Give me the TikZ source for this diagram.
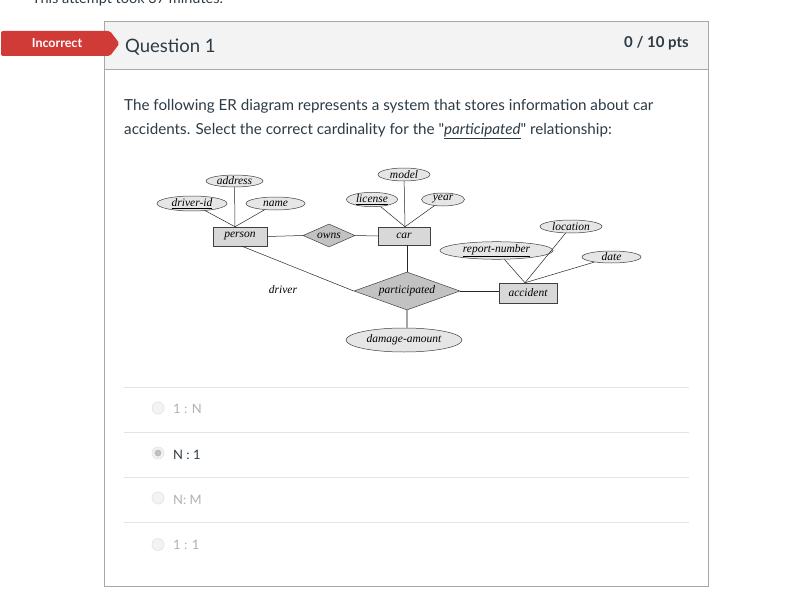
\documentclass[tikz,border=0pt]{standalone}
\usepackage{fontspec}
\newfontfamily\lato{Lato}
\newfontfamily\erserif{Liberation Serif}
\usetikzlibrary{shapes.geometric}
\definecolor{txt}{HTML}{2D3B45}
\definecolor{bord}{HTML}{A8A8A8}
\definecolor{hdr}{HTML}{F3F3F3}
\definecolor{redban}{HTML}{D03A37}
\definecolor{sepc}{HTML}{E4E4E4}
\definecolor{ellc}{HTML}{E6E6E6}
\definecolor{entc}{HTML}{D8D8D8}
\definecolor{relc}{HTML}{C2C2C2}
\definecolor{faint}{HTML}{B0B0B0}
\newcommand\erf{\erserif\fontsize{11.5}{13}\selectfont\itshape}
\begin{document}
\begin{tikzpicture}[x=1pt,y=-1pt,
  attr/.style={ellipse, draw=black!75, fill=ellc, inner sep=0pt, font=\erf, line width=0.5pt},
  ent/.style={rectangle, draw=black!75, fill=entc, inner sep=0pt, font=\erf, line width=0.5pt},
  rel/.style={diamond, draw=black!75, fill=relc, inner sep=0pt, font=\erf, line width=0.5pt},
  erl/.style={line width=0.5pt, black!85},
  ui/.style={inner sep=0pt, text=txt, font=\lato\fontsize{15.2}{17}\selectfont},
  radio/.style={circle, draw=sepc!80!black!40, fill=hdr, minimum size=12pt, inner sep=0pt, line width=0.6pt},
  sepl/.style={sepc, line width=0.8pt}]
\clip (0,0) rectangle (787,607);
\fill[white] (0,0) rectangle (787,607);
% top clipped text
\node[ui, anchor=base west, font=\lato\fontsize{14.5}{16}\selectfont] (top) at (32,4) {This attempt took 37 minutes.};
% question box
\draw[bord, fill=white, line width=0.8pt] (104,21) rectangle (708,586);
\draw[bord, fill=hdr, line width=0.8pt] (104,21) rectangle (708,69);
% banner
\fill[redban, rounded corners=2pt] (1,31) -- (110,31) -- (119.5,43.5) -- (110,56) -- (1,56) -- cycle;
\node[anchor=base, text=white, inner sep=0pt, font=\lato\bfseries\fontsize{12.5}{14}\selectfont] (inc) at (57,47.5) {Incorrect};
\node[ui, anchor=base west, font=\lato\fontsize{18.5}{20}\selectfont] (q1) at (125,52.5) {Question 1};
\node[ui, anchor=base east, font=\lato\bfseries\fontsize{15}{17}\selectfont] (pts) at (689,48) {0 / 10 pts};
% question text
\node[ui, anchor=base west] (l1) at (124,110.5) {The following ER diagram represents a system that stores information about car};
\node[ui, anchor=base west] (l2) at (124,134.5) {accidents. Select the correct cardinality for the "\underline{\textit{participated}}" relationship:};
% ER diagram
\node[attr, minimum width=57pt, minimum height=12pt] (addr) at (234.5,181) {address};
\node[attr, minimum width=70pt, minimum height=15pt] (did) at (192,203.5) {\underline{driver-id}};
\node[attr, minimum width=59pt, minimum height=13pt] (name) at (275.5,203.5) {name};
\node[ent, minimum width=54pt, minimum height=19pt] (person) at (240,236.5) {person};
\node[rel, aspect=2.3, minimum width=52pt, minimum height=23pt] (owns) at (329,235.5) {owns};
\node[ent, minimum width=52pt, minimum height=18pt] (car) at (404,236) {car};
\node[attr, minimum width=52pt, minimum height=13pt] (model) at (404,174.5) {model};
\node[attr, minimum width=51pt, minimum height=14pt] (lic) at (372,199.5) {\underline{license}};
\node[attr, minimum width=43pt, minimum height=13pt] (year) at (443,199.5) {year};
\node[rel, aspect=2.8, minimum width=106pt, minimum height=38pt] (part) at (407,291) {participated};
\node[attr, minimum width=116pt, minimum height=24pt] (dmg) at (404,340) {damage-amount};
\node[ent, minimum width=58pt, minimum height=20pt] (acc) at (528,293) {accident};
\node[attr, minimum width=113pt, minimum height=17pt] (rep) at (496.5,250.5) {\underline{report-number}};
\node[attr, minimum width=62pt, minimum height=13pt] (loc) at (571,226.5) {location};
\node[attr, minimum width=59pt, minimum height=12pt] (date) at (611.5,257) {date};
\node[inner sep=0pt, font=\erf, anchor=base] (drv) at (283,293) {driver};
\coordinate (ptop) at ([xshift=-5pt]person.north);
\coordinate (pbot) at ([xshift=2pt]person.south);
\coordinate (ctop) at ([xshift=1pt]car.north);
\coordinate (atop) at ([xshift=-3pt]acc.north);
\draw[erl] (addr) -- (ptop);
\draw[erl] (did) -- (ptop);
\draw[erl] (name) -- (ptop);
\draw[erl] (model) -- (ctop);
\draw[erl] (lic) -- (ctop);
\draw[erl] (year) -- (ctop);
\draw[erl] (person.east) -- (owns.west);
\draw[erl] (owns.east) -- (car.west);
\draw[erl] ([xshift=3pt]car.south) -- (part.north);
\draw[erl] (pbot) -- (part.west);
\draw[erl] (part.east) -- (part.east -| acc.west);
\draw[black!35, line width=1.2pt] (part.south) -- (dmg.north -| part.south);
\draw[erl] (rep) -- (atop);
\draw[erl] (loc) -- (atop);
\draw[erl] (date) -- (atop);
% choices
\draw[sepl] (124,387) -- (689,387);
\draw[sepl] (124,432) -- (689,432);
\draw[sepl] (124,477) -- (689,477);
\draw[sepl] (124,522) -- (689,522);
\node[radio] (r1) at (158,408) {};
\node[radio] (r2) at (158,453) {};
\node[circle, fill=black!25, minimum size=7pt, inner sep=0pt] (r2dot) at (r2) {};
\node[radio] (r3) at (158,498) {};
\node[radio] (r4) at (158,544.5) {};
\node[ui, anchor=base west, text=faint, font=\lato\fontsize{13}{15}\selectfont] (c1) at (173,413) {1 : N};
\node[ui, anchor=base west, font=\lato\fontsize{13}{15}\selectfont] (c2) at (173,459) {N : 1};
\node[ui, anchor=base west, text=faint, font=\lato\fontsize{13}{15}\selectfont] (c3) at (173,504) {N: M};
\node[ui, anchor=base west, text=faint, font=\lato\fontsize{13}{15}\selectfont] (c4) at (173,549.5) {1 : 1};
\end{tikzpicture}
\end{document}
